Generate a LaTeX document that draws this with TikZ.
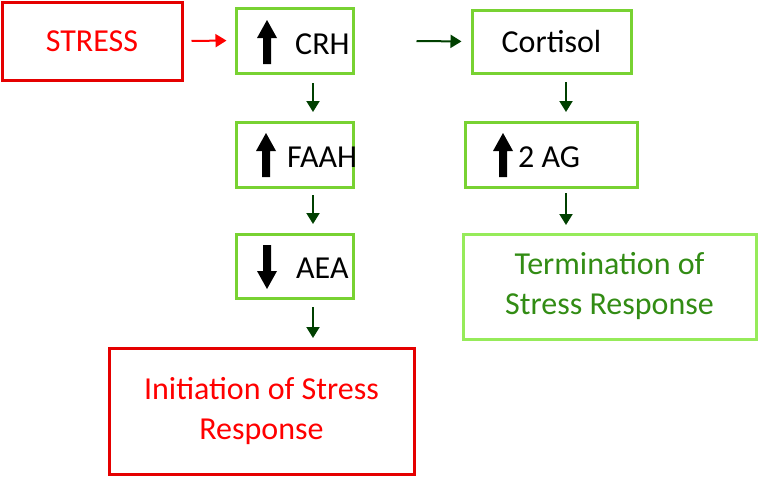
\documentclass[tikz,border=0pt]{standalone}
\usepackage{fontspec}
\setmainfont{Carlito}
\usetikzlibrary{arrows.meta}
\begin{document}
\begin{tikzpicture}[x=1pt,y=-1pt,
 tf/.style={font=\fontsize{32}{40}\selectfont},
 box/.style={draw=#1,line width=3pt,inner sep=0pt,align=center,tf},
 rb/.style={box=red!90!black},
 ar/.style={-{Triangle[length=11pt,width=13pt]},line width=2pt,draw=green!25!black}]
\definecolor{lg}{RGB}{120,210,50}
\definecolor{llg}{RGB}{150,235,90}
\definecolor{dg}{RGB}{50,140,20}
\useasboundingbox (0,0) rectangle (759,477);
\node[rb,minimum width=180,minimum height=78,text=red] (s) at (92,41) {STRESS};
\node[box=lg,minimum width=117,minimum height=65] (crh) at (294.5,40.5) {};
\node[anchor=west,tf,inner sep=0pt] (crht) at (295,44) {CRH};
\node[box=lg,minimum width=159,minimum height=63] (cor) at (551.5,41.5) {Cortisol};
\node[box=lg,minimum width=117,minimum height=65] (faah) at (294.5,154.5) {};
\node[anchor=west,tf,inner sep=0pt] (faaht) at (287,157) {FAAH};
\node[box=lg,minimum width=172,minimum height=65] (ag) at (551,154.5) {};
\node[anchor=west,tf,inner sep=0pt] (agt) at (518,157) {2 AG};
\node[box=lg,minimum width=117,minimum height=64] (aea) at (294.5,266) {};
\node[anchor=west,tf,inner sep=0pt] (aeat) at (296,268) {AEA};
\node[rb,minimum width=305,minimum height=126,text=red] (ini) at (261.5,411) {Initiation of Stress\\Response};
\node[box=llg,minimum width=293,minimum height=105,text=dg] (ter) at (609.5,286.5) {Termination of\\Stress Response};
\foreach \x/\y in {267/20,266/133,503/133}{
 \fill (\x,\y) -- (\x+10,\y+18) -- (\x+4,\y+18) -- (\x+4,\y+44) -- (\x-4,\y+44) -- (\x-4,\y+18) -- (\x-10,\y+18) -- cycle;}
\fill (267,289) -- (277,271) -- (271,271) -- (271,245) -- (263,245) -- (263,271) -- (257,271) -- cycle;
\draw[ar,shorten <=8pt,shorten >=8pt,draw=red,red] (s.east) -- (crh.west);
\draw[ar,shorten <=62pt,shorten >=9pt] (crh.east) -- (cor.west);
\draw[ar,shorten <=10pt,shorten >=10pt] (313,73) -- (313,122);
\draw[ar,shorten <=8pt,shorten >=10pt] (313,187) -- (313,234);
\draw[ar,shorten <=9pt,shorten >=10pt] (313,298) -- (313,348);
\draw[ar,shorten <=9pt,shorten >=10pt] (566,73) -- (566,122);
\draw[ar,shorten <=6pt,shorten >=9pt] (566,187) -- (566,234);
\end{tikzpicture}
\end{document}
